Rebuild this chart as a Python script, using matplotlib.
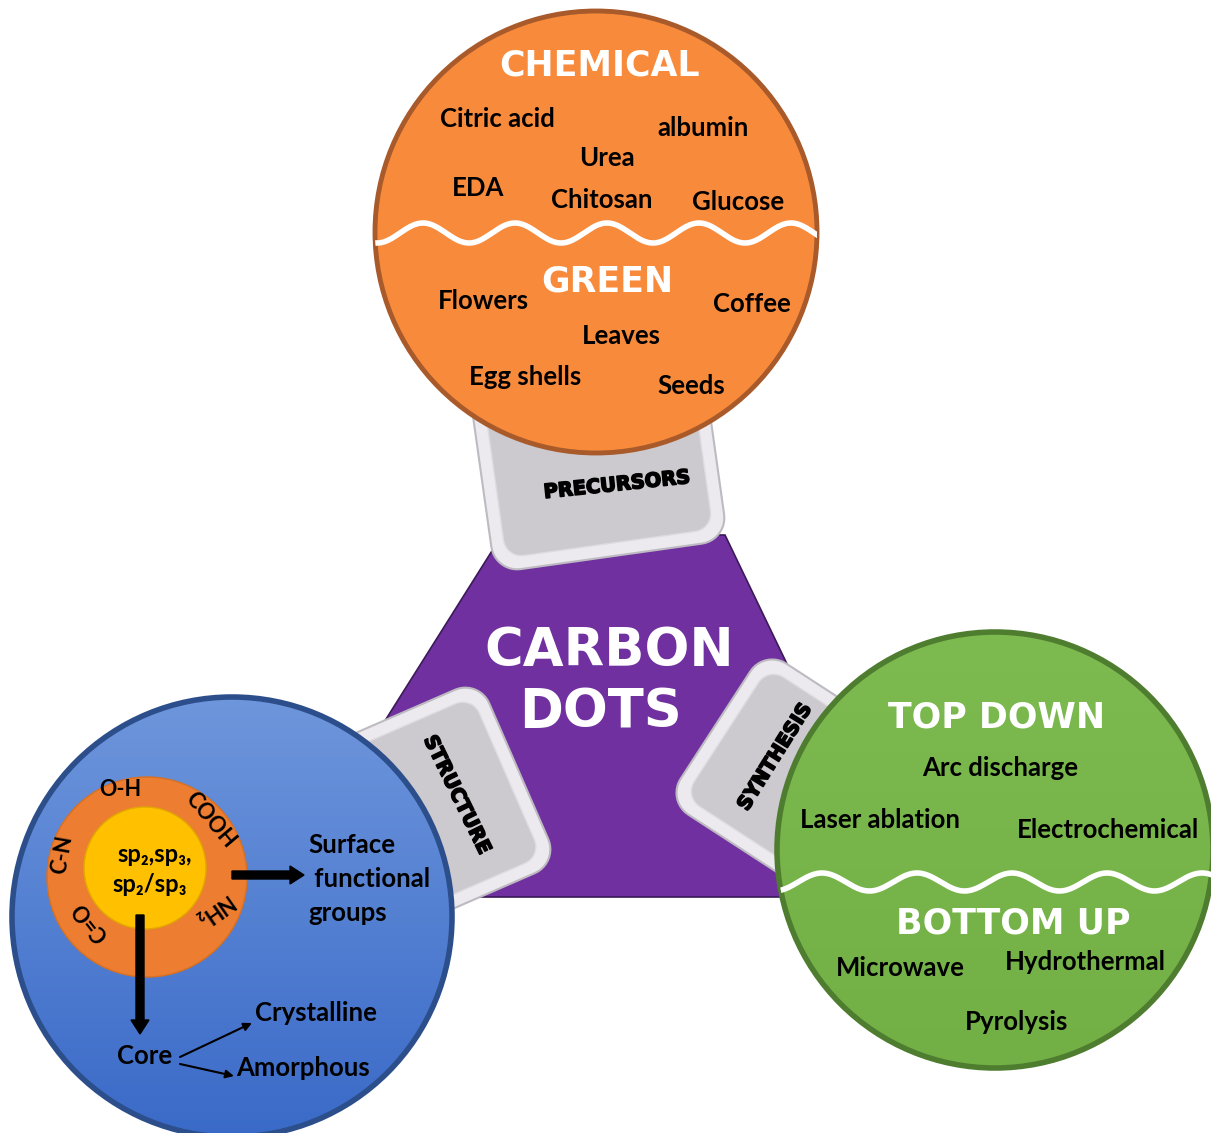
import numpy as np
import matplotlib.pyplot as plt
import matplotlib.patheffects as pe
from matplotlib.patches import Circle, Polygon, FancyArrow
from matplotlib.colors import LinearSegmentedColormap

W, H = 1211, 1133

# ---- labels (the "data" of the diagram) ----
chemical_labels = ["Citric acid", "albumin", "Urea", "EDA", "Chitosan", "Glucose"]
green_labels = ["Flowers", "Coffee", "Leaves", "Egg shells", "Seeds"]
top_down_labels = ["Arc discharge", "Laser ablation", "Electrochemical"]
bottom_up_labels = ["Microwave", "Hydrothermal", "Pyrolysis"]
group_labels = ["O-H", "COOH", "C-N", "C=O", "NH₂"]
hybrid_labels = ["sp₂,sp₃,", "sp₂/sp₃"]
surface_labels = ["Surface", " functional", "groups"]
core_labels = ["Crystalline", "Amorphous"]
tab_labels = ["PRECURSORS", "STRUCTURE", "SYNTHESIS"]

# ---- layout (image pixel coords, y down) ----
chemical_xy = [(497, 119), (703, 128), (607, 158), (478, 188), (602, 200), (738, 202)]
green_xy = [(483, 301), (752, 304), (621, 336), (525, 377), (691, 386)]
top_down_xy = [(1000, 768), (880, 820), (1108, 830)]
bottom_up_xy = [(900, 968), (1085, 962), (1017, 1022)]
group_xy = [(120, 790), (210, 820), (62, 855), (90, 922), (213, 910)]
group_rot = [0, -50, 80, 128, 215]
tab_geom = [  # cx, cy, side, angle
    (595, 440, 235, 8),
    (427, 811, 200, 23.5),
    (791, 774, 180, -33),
]
tab_text = [(617, 485, 6), (457, 795, -64), (775, 757, 58)]

BODY = ["Lato", "DejaVu Sans"]
HEAD = ["DejaVu Sans"]


def rounded_square(cx, cy, side, ang, rad):
    h = side / 2 - rad
    pts = []
    for sx, sy, a0 in [(1, -1, 0), (-1, -1, 90), (-1, 1, 180), (1, 1, 270)]:
        t = np.radians(np.linspace(a0, a0 + 90, 12))
        pts += list(zip(sx * h + rad * np.cos(t), sy * h - rad * np.sin(t)))
    a = np.radians(ang)
    out = [(cx + x * np.cos(a) + y * np.sin(a), cy - x * np.sin(a) + y * np.cos(a)) for x, y in pts]
    return np.array(out)


def gradient_circle(ax, cx, cy, r, top, bottom, edge, z):
    circ = Circle((cx, cy), r, facecolor="none", edgecolor=edge, lw=4, zorder=z + 0.5)
    ax.add_patch(circ)
    cmap = LinearSegmentedColormap.from_list("g", [top, bottom])
    grad = np.linspace(0, 1, 256).reshape(-1, 1)
    im = ax.imshow(grad, cmap=cmap, extent=(cx - r, cx + r, cy + r, cy - r),
                   origin="upper", aspect="auto", zorder=z, interpolation="bilinear")
    im.set_clip_path(circ)
    return circ


def txt(ax, x, y, s, size=18.5, color="black", rot=0, family=BODY, z=10):
    return ax.text(x, y, s, ha="center", va="center", fontsize=size, color=color,
                   fontweight="bold", family=family, rotation=rot, zorder=z,
                   rotation_mode="anchor")


fig = plt.figure(figsize=(W / 100, H / 100), dpi=100)
ax = fig.add_axes([0, 0, 1, 1])
ax.set_xlim(0, W)
ax.set_ylim(H, 0)
ax.axis("off")

# purple body
purple = Polygon([(502, 535), (725, 535), (899, 897), (274, 897)], closed=True,
                 facecolor="#7030A0", edgecolor="#3b1a57", lw=1.2, zorder=1)
ax.add_patch(purple)

# tabs
for (cx, cy, side, ang) in tab_geom:
    outer = rounded_square(cx, cy, side, ang, 26)
    ax.add_patch(Polygon(outer, closed=True, facecolor="#ECEAEE", edgecolor="#BDBAC1",
                         lw=1.5, zorder=2))
    inner = rounded_square(cx, cy, side - 26, ang, 18)
    ax.add_patch(Polygon(inner, closed=True, facecolor="#CCC9CF", edgecolor="#DEDCE1",
                         lw=1, zorder=2.1))
for lab, (x, y, r) in zip(tab_labels, tab_text):
    t = txt(ax, x, y, lab, size=14, rot=r, family=HEAD, z=2.5)
    t.set_path_effects([pe.withStroke(linewidth=1.2, foreground="black")])

# orange circle (precursors)
oc = Circle((596, 232), 221, facecolor="#F88A3C", edgecolor="#A85A2A", lw=3.5, zorder=3)
ax.add_patch(oc)
xw = np.linspace(370, 822, 400)
yw = 233 - 10 * np.cos(2 * np.pi * (xw - 607) / 92)
wl, = ax.plot(xw, yw, color="white", lw=4, zorder=3.5, solid_capstyle="round")
wl.set_clip_path(oc)
txt(ax, 600, 66, "CHEMICAL", size=25, color="white", family=HEAD)
txt(ax, 607, 282, "GREEN", size=25, color="white", family=HEAD)
for lab, (x, y) in zip(chemical_labels, chemical_xy):
    txt(ax, x, y, lab)
for lab, (x, y) in zip(green_labels, green_xy):
    txt(ax, x, y, lab)

# green circle (synthesis)
gc = gradient_circle(ax, 995, 850, 218, "#7DBA50", "#72B046", "#4F7D30", 3)
xg = np.linspace(780, 1215, 400)
yg = 882 - 9 * np.cos(2 * np.pi * (xg - 1012) / 95)
gl, = ax.plot(xg, yg, color="white", lw=4, zorder=3.6, solid_capstyle="round")
gl.set_clip_path(gc)
txt(ax, 997, 717, "TOP DOWN", size=25, color="white", family=HEAD)
txt(ax, 1013, 923, "BOTTOM UP", size=25, color="white", family=HEAD)
for lab, (x, y) in zip(top_down_labels, top_down_xy):
    txt(ax, x, y, lab)
for lab, (x, y) in zip(bottom_up_labels, bottom_up_xy):
    txt(ax, x, y, lab)

# blue circle (structure)
gradient_circle(ax, 232, 917, 220, "#6E96DC", "#3A6AC8", "#2C4F8C", 3)
ax.add_patch(Circle((147, 877), 100, facecolor="#ED7D31", edgecolor="#D8701F", lw=1, zorder=4))
ax.add_patch(Circle((145, 868), 61, facecolor="#FFC000", edgecolor="#E0A800", lw=1, zorder=4.1))
for lab, (x, y), r in zip(group_labels, group_xy, group_rot):
    txt(ax, x, y, lab, size=15.5, rot=r)
txt(ax, 155, 854, hybrid_labels[0], size=17)
txt(ax, 150, 885, hybrid_labels[1], size=17)

ax.add_patch(FancyArrow(232, 875, 72, 0, width=8, head_width=18, head_length=14,
                        length_includes_head=True, color="black", zorder=5))
ax.add_patch(FancyArrow(140, 915, 0, 119, width=8, head_width=18, head_length=14,
                        length_includes_head=True, color="black", zorder=5))
for lab, y in zip(surface_labels, [845, 879, 913]):
    ax.text(308, y, lab, ha="left", va="center", fontsize=18.5, fontweight="bold",
            family=BODY, zorder=10)

txt(ax, 145, 1056, "Core")
txt(ax, 316, 1013, core_labels[0])
txt(ax, 303, 1068, core_labels[1])
ax.annotate("", xy=(252, 1023), xytext=(180, 1057),
            arrowprops=dict(arrowstyle="-|>", lw=1.5, color="black", mutation_scale=12,
                            shrinkA=0, shrinkB=0), zorder=6)
ax.annotate("", xy=(234, 1076), xytext=(180, 1064),
            arrowprops=dict(arrowstyle="-|>", lw=1.5, color="black", mutation_scale=12,
                            shrinkA=0, shrinkB=0), zorder=6)

# title
txt(ax, 609, 651, "CARBON", size=38, color="white", family=HEAD, z=2.2)
txt(ax, 600, 712, "DOTS", size=38, color="white", family=HEAD, z=2.2)

fig.savefig("out.png", dpi=100)
